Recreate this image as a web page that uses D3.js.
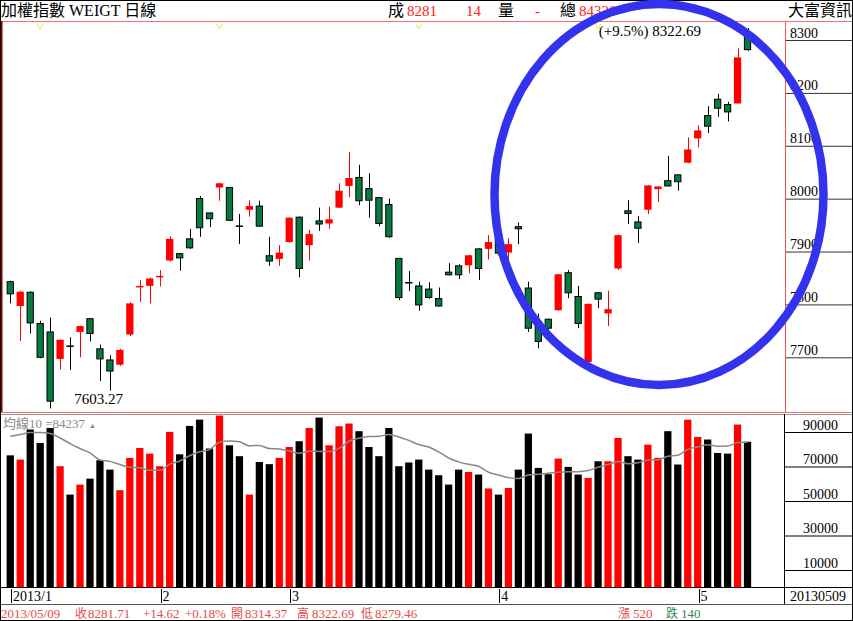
<!DOCTYPE html>
<html><head><meta charset="utf-8">
<script src="https://cdn.jsdelivr.net/npm/d3@7"></script>
<style>html,body{margin:0;padding:0;background:#fff;} svg{display:block;} text{font-family:"Liberation Serif","Noto Sans CJK TC",serif;}</style>
</head><body><svg id="c" width="853" height="621"></svg>
<script>
const openP = [7843,7797,7823,7764,7748,7697,7721,7748,7773,7716,7695,7686,7743,7834,7835,7853,7883,7896,7924,8000,7973,8021,8021,7948,7979,7986,7892,7886,7918,7965,7912,7958,7953,7983,8024,8040,8019,8002,7989,7887,7841,7835,7829,7811,7861,7873,7874,7905,7905,7933,7898,7947,7831,7766,7772,7789,7860,7815,7691,7822,7783,7868,7977,7956,7979,8018,8034,8045,8068,8114,8157,8188,8178,8180,8314.37];
const highP = [7845,7826,7825,7769,7775,7734,7738,7760,7774,7724,7704,7716,7804,7846,7851,7865,7929,7897,7943,8005,7974,8030,8022,7971,7997,7996,7928,7912,7965,7966,7941,7983,7985,8029,8088,8064,8048,8003,8000,7888,7863,7843,7842,7832,7878,7876,7894,7906,7931,7941,7925,7955,7843,7783,7773,7858,7865,7835,7802,7823,7826,7932,7997,7967,8026,8023,8081,8045,8116,8139,8175,8198,8183,8284,8322.69];
const lowP = [7802,7731,7745,7698,7603.27,7677,7676,7700,7730,7655,7637,7684,7740,7805,7802,7834,7881,7864,7905,7928,7946,7996,7958,7914,7966,7947,7873,7873,7917,7851,7883,7939,7943,7982,8003,7988,7964,7948,7926,7808,7825,7788,7811,7796,7855,7848,7859,7846,7885,7893,7879,7914,7748,7717,7748,7788,7812,7755,7690,7793,7759,7865,7952,7916,7971,7994,8023,8015,8067,8097,8124,8155,8146,8180,8279.46];
const closeP = [7820,7824,7765,7700,7617,7733,7721,7759,7745,7697,7674,7714,7802,7835,7849,7854,7924,7888,7907,7945,7962,8029,7959,7948,7986,7948,7882,7898,7964,7868,7933,7952,7961,8015,8039,7996,7997,7953,7928,7813,7841,7799,7813,7797,7856,7856,7893,7868,7918,7897,7914,7943,7755,7730,7755,7857,7822,7764,7801,7810,7791,7931,7972,7944,8025,8023,8024,8032,8093,8129,8137,8171,8164,8267.09,8281.71];
const volume = [76470,74010,91450,83670,92340,70170,53710,59520,62970,73620,
  68200,56270,75000,80710,77460,70170,90070,77070,93520,97170,
  80420,99540,82290,75980,53710,72630,71350,75000,81300,84650,
  92340,98350,82290,93330,94900,90470,81300,75980,92340,70170,
  72330,74010,68200,64940,59520,68200,66820,65340,57260,53710,
  57550,68200,89090,69180,65540,74600,69770,65340,63370,73030,
  73030,86530,75980,74010,82680,75000,90470,71150,97170,87120,
  85640,77850,77460,94310,84320];
const maHead = [87510,88500,89680,89680,89090,86530,83270,80420,77850];
const priceTicks = [7700,7800,7900,8000,8100,8200,8300];
const volTicks = [10000,30000,50000,70000,90000];
const monthStart = [0,15,28,49,69];
const monthLabels = ["2013/1","2","3","4","5"];
const markerIdx = [3,21,41,59];
const lastDate = "20130509";

const W=853,H=621;
const svg=d3.select("#c");
svg.append("rect").attr("width",W).attr("height",H).attr("fill","#fff");

const idx = d3.range(openP.length);
const x = d3.scaleBand().domain(idx).range([5.3,752.5]).paddingInner(0.27).paddingOuter(0.135);
const bw = x.bandwidth();
const xc = i => x(i)+bw/2;
const y = d3.scaleLinear().domain([7700,8300]).range([357.3,40]);
const yv = d3.scaleLinear().domain([0,100000]).range([587.25,414.75]);

const fr = svg.append("g");
fr.append("line").attr("x1",0).attr("x2",W).attr("y1",21.5).attr("y2",21.5).attr("stroke","#f07070");
fr.append("line").attr("x1",1.5).attr("x2",1.5).attr("y1",21).attr("y2",412).attr("stroke","#800000").attr("stroke-width",2);
fr.append("line").attr("x1",785.5).attr("x2",785.5).attr("y1",21).attr("y2",413).attr("stroke","#f05050");
fr.append("line").attr("x1",0).attr("x2",W).attr("y1",412.5).attr("y2",412.5).attr("stroke","#f07070");
fr.append("line").attr("x1",0).attr("x2",W).attr("y1",414.5).attr("y2",414.5).attr("stroke","#999");
fr.append("line").attr("x1",784.5).attr("x2",784.5).attr("y1",414).attr("y2",604).attr("stroke","#000");
fr.append("line").attr("x1",0).attr("x2",W).attr("y1",587.5).attr("y2",587.5).attr("stroke","#000");
fr.append("line").attr("x1",0).attr("x2",W).attr("y1",604.5).attr("y2",604.5).attr("stroke","#555");

const pa = svg.append("g").attr("transform","translate(786,0)")
  .call(d3.axisRight(y).tickValues(priceTicks).tickSize(67).tickFormat(d3.format("d")));
pa.select(".domain").remove();
pa.selectAll(".tick line").attr("stroke","#333");
pa.selectAll(".tick text").attr("x",4).attr("y",-3).attr("dy",null).attr("text-anchor","start")
  .attr("font-size",14).attr("fill","#000").attr("font-family","Liberation Serif");

const va = svg.append("g").attr("transform","translate(784,0)")
  .call(d3.axisRight(yv).tickValues(volTicks).tickSize(69).tickFormat(d3.format("d")));
va.select(".domain").remove();
va.selectAll(".tick line").attr("stroke","#000");
va.selectAll(".tick text").attr("x",19).attr("y",-3).attr("dy",null).attr("text-anchor","start")
  .attr("font-size",14).attr("fill","#000").attr("font-family","Liberation Serif");

svg.append("g").selectAll("rect").data(idx).join("rect")
  .attr("x",i=>x(i)).attr("width",bw)
  .attr("y",i=>yv(volume[i])).attr("height",i=>yv(0)-yv(volume[i]))
  .attr("fill",i=>closeP[i]>openP[i]?"#ff0000":"#000");

const ma10 = idx.map(i => i < maHead.length ? maHead[i] : d3.mean(volume.slice(i-9,i+1)));
svg.append("path").datum(idx)
  .attr("d",d3.line().x(i=>xc(i)).y(i=>yv(ma10[i])).curve(d3.curveMonotoneX))
  .attr("fill","none").attr("stroke","#888").attr("stroke-width",1.5);

svg.append("text").attr("x",3).attr("y",428).attr("font-size",13).attr("fill","#888").text("均線10 =84237");
svg.append("text").attr("x",89).attr("y",428).attr("font-size",7).attr("fill","#888").text("▲");

const cg = svg.append("g");
const colOf = i => closeP[i]>openP[i] ? "up" : (closeP[i]<openP[i] ? "down" : "flat");
cg.selectAll("line.wick").data(idx).join("line").attr("class","wick")
  .attr("x1",i=>Math.round(xc(i))+0.5).attr("x2",i=>Math.round(xc(i))+0.5)
  .attr("y1",i=>y(highP[i])).attr("y2",i=>y(lowP[i]))
  .attr("stroke",i=>colOf(i)==="up"?"#ff0000":"#000");
cg.selectAll("rect.up").data(idx.filter(i=>colOf(i)==="up")).join("rect").attr("class","up")
  .attr("x",i=>x(i)).attr("width",bw)
  .attr("y",i=>y(closeP[i])).attr("height",i=>Math.max(1.5,y(openP[i])-y(closeP[i])))
  .attr("fill","#ff0000");
cg.selectAll("rect.down").data(idx.filter(i=>colOf(i)==="down")).join("rect").attr("class","down")
  .attr("x",i=>x(i)+0.5).attr("width",bw-1)
  .attr("y",i=>y(openP[i])).attr("height",i=>Math.max(1.5,y(closeP[i])-y(openP[i])))
  .attr("fill","#087a3e").attr("stroke","#000").attr("stroke-width",1);
cg.selectAll("line.flat").data(idx.filter(i=>colOf(i)==="flat")).join("line").attr("class","flat")
  .attr("x1",i=>x(i)).attr("x2",i=>x(i)+bw)
  .attr("y1",i=>y(openP[i])).attr("y2",i=>y(openP[i]))
  .attr("stroke","#000").attr("stroke-width",1.5);

svg.append("g").selectAll("path").data(markerIdx).join("path")
  .attr("d",i=>`M${xc(i)-3},24 L${xc(i)},29 L${xc(i)+3},24`)
  .attr("fill","none").attr("stroke","#e8e830").attr("stroke-width",1);

const lowIdx = d3.minIndex(lowP), highIdx = d3.maxIndex(highP);
svg.append("text").attr("x",xc(lowIdx)+24).attr("y",y(lowP[lowIdx])-4).attr("font-size",15)
  .attr("fill","#000").text(d3.format(".2f")(lowP[lowIdx]));
const pct = (highP[highIdx]/lowP[lowIdx]-1)*100;
svg.append("text").attr("x",xc(highIdx)-46.5).attr("y",y(highP[highIdx])+8).attr("font-size",15)
  .attr("text-anchor","end").attr("fill","#000")
  .text(`(+${pct.toFixed(1)}%) ${d3.format(".2f")(highP[highIdx])}`);

const ma = svg.append("g");
ma.selectAll("line").data(monthStart).join("line")
  .attr("x1",i=>Math.round(xc(i))+1.5).attr("x2",i=>Math.round(xc(i))+1.5)
  .attr("y1",589).attr("y2",603).attr("stroke","#000");
ma.selectAll("text").data(monthStart).join("text")
  .attr("x",i=>xc(i)+2.8).attr("y",601).attr("font-size",14).attr("fill","#000")
  .text((d,k)=>monthLabels[k]);
svg.append("text").attr("x",790).attr("y",601).attr("font-size",14).attr("fill","#000").text(lastDate);

const hdr = svg.append("g").attr("font-size",16);
hdr.append("text").attr("x",1).attr("y",16).attr("fill","#000").text("加權指數 WEIGT 日線");
const hItems = [["成",388,"#000"],["8281",407,"#ff2020"],["14",466,"#ff2020"],["量",498,"#000"],["-",535,"#ff2020"],["總",560,"#000"],["84320",579,"#ff2020"]];
hdr.selectAll("text.h").data(hItems).join("text").attr("class","h")
  .attr("x",d=>d[1]).attr("y",16).attr("fill",d=>d[2]).attr("font-size",d=>/\d|-/.test(d[0])?15:16).text(d=>d[0]);
hdr.append("text").attr("x",788).attr("y",16).attr("fill","#000").text("大富資訊");

const red = "#e84a4a", grn = "#2a8a50";
const sItems = [["2013/05/09",1,red],["收",75,red],["8281.71",88,red],["+14.62",143,red],["+0.18%",185,red],["開",231,red],["8314.37",245,red],["高",297,red],["8322.69",312,red],["低",361,red],["8279.46",375,red],["漲",618,red],["520",633,red],["跌",666,grn],["140",681,grn]];
svg.append("g").selectAll("text").data(sItems).join("text")
  .attr("x",d=>d[1]).attr("y",618).attr("font-size",d=>/[0-9]/.test(d[0])?13:12).attr("fill",d=>d[2]).text(d=>d[0]);

svg.append("rect").attr("x",0.5).attr("y",0.5).attr("width",W-1).attr("height",H-1)
  .attr("fill","none").attr("stroke","#000");

svg.append("ellipse").attr("cx",659).attr("cy",194.5).attr("rx",164.5).attr("ry",190.5)
  .attr("fill","none").attr("stroke","#3333ee").attr("stroke-width",8.5);
</script></body></html>
